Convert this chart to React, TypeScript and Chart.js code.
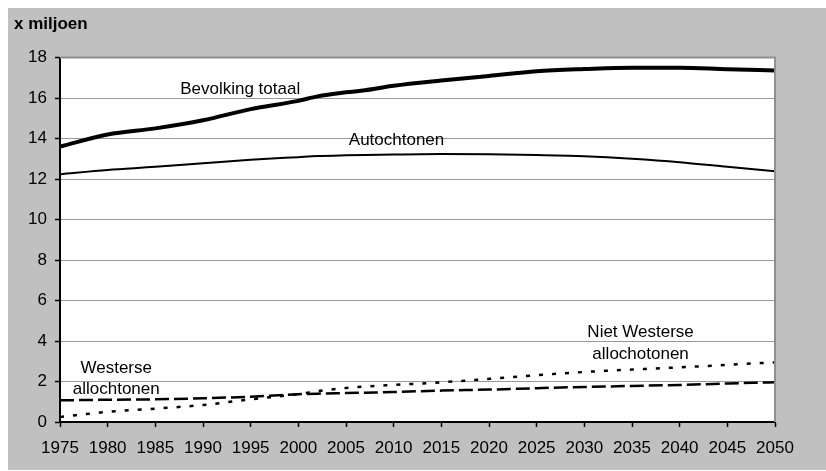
import React, { useEffect, useRef } from "react";
import { Chart, registerables } from "chart.js";

Chart.register(...registerables);

const years = [1975, 1980, 1985, 1990, 1995, 2000, 2002, 2005, 2007, 2010, 2015, 2020, 2025, 2030, 2035, 2040, 2045, 2050];
const totaal = [13.6, 14.2, 14.5, 14.9, 15.45, 15.86, 16.08, 16.28, 16.38, 16.6, 16.86, 17.09, 17.32, 17.43, 17.5, 17.5, 17.42, 17.36];
const autochtonen = [12.24, 12.45, 12.6, 12.78, 12.95, 13.08, 13.13, 13.17, 13.19, 13.21, 13.23, 13.22, 13.18, 13.12, 13.0, 12.83, 12.6, 12.38];
const westerse = [1.07, 1.1, 1.12, 1.17, 1.25, 1.37, 1.4, 1.43, 1.45, 1.48, 1.55, 1.6, 1.67, 1.73, 1.78, 1.83, 1.9, 1.96];
const nietWesterse = [0.25, 0.5, 0.66, 0.84, 1.12, 1.38, 1.52, 1.68, 1.75, 1.83, 1.96, 2.13, 2.31, 2.47, 2.59, 2.7, 2.82, 2.95];

const seriesNames = ["Bevolking totaal", "Autochtonen", "Westerse allochtonen", "Niet Westerse allochotonen"];

// Text labels placed in data coordinates (year, value)
const labelTexts = ["Bevolking totaal", "Autochtonen", "Westerse", "allochtonen", "Niet Westerse", "allochotonen"];
const labelYears = [1993.9, 2010.3, 1980.9, 1980.9, 2035.9, 2035.9];
const labelValues = [16.43, 13.93, 2.65, 1.62, 4.43, 3.35];

const yTitle = "x miljoen";
const FONT = '"Liberation Sans", Arial, sans-serif';

const toPoints = (vals: number[]) => vals.map((v, i) => ({ x: years[i], y: v }));

export default function App() {
  const ref = useRef<HTMLCanvasElement | null>(null);

  useEffect(() => {
    document.documentElement.style.overflow = "hidden";
    document.body.style.overflow = "hidden";
    if (!ref.current) return;
    const decor = {
      id: "decor",
      beforeDraw(chart: any) {
        const { ctx, chartArea } = chart;
        ctx.save();
        ctx.fillStyle = "#ffffff";
        ctx.fillRect(chartArea.left, chartArea.top, chartArea.right - chartArea.left, chartArea.bottom - chartArea.top);
        ctx.restore();
      },
      afterDraw(chart: any) {
        const { ctx, chartArea, scales } = chart;
        ctx.save();
        ctx.strokeStyle = "#909090";
        ctx.lineWidth = 2;
        ctx.beginPath();
        ctx.moveTo(chartArea.left, chartArea.top);
        ctx.lineTo(chartArea.right, chartArea.top);
        ctx.lineTo(chartArea.right, chartArea.bottom);
        ctx.stroke();

        ctx.fillStyle = "#000";
        ctx.font = `17px ${FONT}`;
        ctx.textAlign = "center";
        ctx.textBaseline = "middle";
        labelTexts.forEach((t, i) => {
          ctx.fillText(t, scales.x.getPixelForValue(labelYears[i]), scales.y.getPixelForValue(labelValues[i]));
        });

        ctx.font = `bold 17px ${FONT}`;
        ctx.textAlign = "left";
        ctx.fillText(yTitle, 6, 16);
        ctx.restore();
      },
    };

    const chart = new Chart(ref.current, {
      type: "line",
      data: {
        datasets: [
          {
            label: seriesNames[0],
            data: toPoints(totaal),
            borderColor: "#000",
            borderWidth: 4,
            pointRadius: 0,
            cubicInterpolationMode: "monotone",
          },
          {
            label: seriesNames[1],
            data: toPoints(autochtonen),
            borderColor: "#000",
            borderWidth: 2,
            pointRadius: 0,
            cubicInterpolationMode: "monotone",
          },
          {
            label: seriesNames[2],
            data: toPoints(westerse),
            borderColor: "#000",
            borderWidth: 2.5,
            borderDash: [14, 5],
            pointRadius: 0,
            cubicInterpolationMode: "monotone",
          },
          {
            label: seriesNames[3],
            data: toPoints(nietWesterse),
            borderColor: "#000",
            borderWidth: 2.5,
            borderDash: [4, 9],
            pointRadius: 0,
            cubicInterpolationMode: "monotone",
          },
        ],
      },
      options: {
        animation: false,
        responsive: false,
        devicePixelRatio: 1,
        layout: { padding: { top: 49.5, right: 51, left: 0, bottom: 0 } },
        plugins: { legend: { display: false }, tooltip: { enabled: false } },
        scales: {
          x: {
            type: "linear",
            min: 1975,
            max: 2050,
            afterFit: (s: any) => {
              s.height = 48;
            },
            ticks: {
              stepSize: 5,
              autoSkip: false,
              maxRotation: 0,
              color: "#000",
              padding: 11,
              font: { family: FONT, size: 17 },
              callback: (v: any) => String(v),
            },
            grid: { drawOnChartArea: false, drawTicks: true, tickLength: 5, tickColor: "#000", tickWidth: 1.5 },
            border: { color: "#000", width: 2 },
          },
          y: {
            min: 0,
            max: 18,
            afterFit: (s: any) => {
              s.width = 52;
            },
            ticks: {
              stepSize: 2,
              color: "#000",
              padding: 8,
              font: { family: FONT, size: 17 },
            },
            grid: { color: "#999", lineWidth: 1, tickColor: "#000", tickLength: 5, tickWidth: 1.5 },
            border: { color: "#000", width: 2 },
          },
        },
      },
      plugins: [decor],
    } as any);
    return () => chart.destroy();
  }, []);

  return (
    <div style={{ width: 818, height: 462 }}>
      <div style={{ position: "fixed", left: 8, top: 8, right: 0, bottom: 1, background: "#c0c0c0" }} />
      <canvas
        ref={ref}
        width={818}
        height={462}
        style={{ display: "block", width: 818, height: 462, position: "relative" }}
      />
    </div>
  );
}
